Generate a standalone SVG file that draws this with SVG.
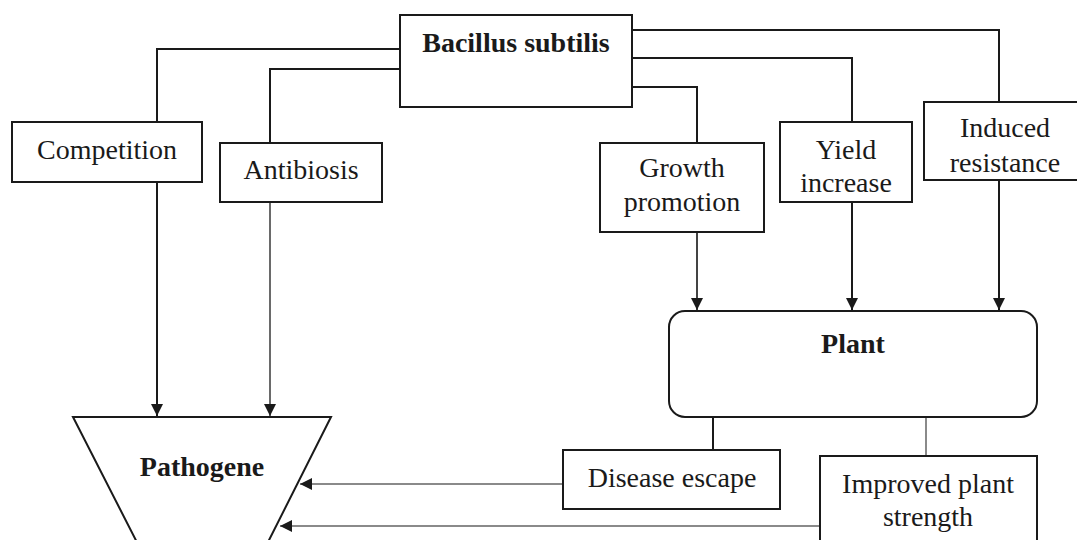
<svg xmlns="http://www.w3.org/2000/svg" width="1077" height="540" viewBox="0 0 1077 540">
<defs>
<style>
.box{fill:#fff;stroke:#1a1a1a;stroke-width:2}
.t{font-family:"Liberation Serif","Times New Roman",serif;font-size:28px;fill:#1a1a1a;text-anchor:middle}
.b{font-weight:bold}
.ln{fill:none;stroke:#1a1a1a;stroke-width:2}
.gl{fill:none;stroke:#8a8a8a;stroke-width:2}
</style>
<marker id="ah" viewBox="0 0 10 10" refX="10" refY="5" markerWidth="6" markerHeight="6" markerUnits="strokeWidth" orient="auto">
<path d="M0,0 L10,5 L0,10 Z" fill="#1a1a1a"/>
</marker>
</defs>
<rect width="1077" height="540" fill="#fff"/>
<g id="connectors">
<polyline class="ln" points="400,49 157,49 157,122"/>
<polyline class="ln" points="400,69 270,69 270,143"/>
<polyline class="ln" points="632,30 999,30 999,102"/>
<polyline class="ln" points="632,58 852,58 852,122"/>
<polyline class="ln" points="632,87 697,87 697,143"/>
<line class="ln" x1="157" y1="182" x2="157" y2="416" marker-end="url(#ah)"/>
<line class="gl" x1="270" y1="202" x2="270" y2="416" marker-end="url(#ah)" style="stroke:#6a6a6a"/>
<line class="ln" x1="697" y1="232" x2="697" y2="310" style="stroke:#444" marker-end="url(#ah)"/>
<line class="ln" x1="852" y1="202" x2="852" y2="310" marker-end="url(#ah)"/>
<line class="ln" x1="999" y1="180" x2="999" y2="310" marker-end="url(#ah)"/>
<line class="ln" x1="713" y1="417" x2="713" y2="450"/>
<line class="gl" x1="926" y1="417" x2="926" y2="456"/>
<line class="gl" x1="563" y1="484" x2="300" y2="484" marker-end="url(#ah)"/>
<line class="gl" x1="820" y1="526" x2="280" y2="526" marker-end="url(#ah)"/>
</g>
<g id="bacillus">
<rect class="box" x="400" y="15" width="232" height="92"/>
<text class="t b" x="516" y="52">Bacillus subtilis</text>
</g>
<g id="competition">
<rect class="box" x="12" y="122" width="190" height="60"/>
<text class="t" x="107" y="159">Competition</text>
</g>
<g id="antibiosis">
<rect class="box" x="220" y="143" width="162" height="59"/>
<text class="t" x="301" y="179">Antibiosis</text>
</g>
<g id="growth">
<rect class="box" x="600" y="143" width="164" height="89"/>
<text class="t" x="682" y="177">Growth</text>
<text class="t" x="682" y="211">promotion</text>
</g>
<g id="yield">
<rect class="box" x="780" y="122" width="132" height="80"/>
<text class="t" x="846" y="159">Yield</text>
<text class="t" x="846" y="192">increase</text>
</g>
<g id="induced">
<rect class="box" x="924" y="102" width="170" height="78"/>
<text class="t" x="1005" y="137">Induced</text>
<text class="t" x="1005" y="172">resistance</text>
</g>
<g id="plant">
<rect class="box" x="669" y="311" width="368" height="106" rx="16" ry="16"/>
<text class="t b" x="853" y="353">Plant</text>
</g>
<g id="pathogene">
<polygon class="box" points="73,417 331,417 259,560 146,560"/>
<text class="t b" x="202" y="476">Pathogene</text>
</g>
<g id="disease">
<rect class="box" x="563" y="450" width="217" height="59"/>
<text class="t" x="672" y="487">Disease escape</text>
</g>
<g id="improved">
<rect class="box" x="820" y="456" width="217" height="100"/>
<text class="t" x="928" y="493">Improved plant</text>
<text class="t" x="928" y="526">strength</text>
</g>
</svg>
